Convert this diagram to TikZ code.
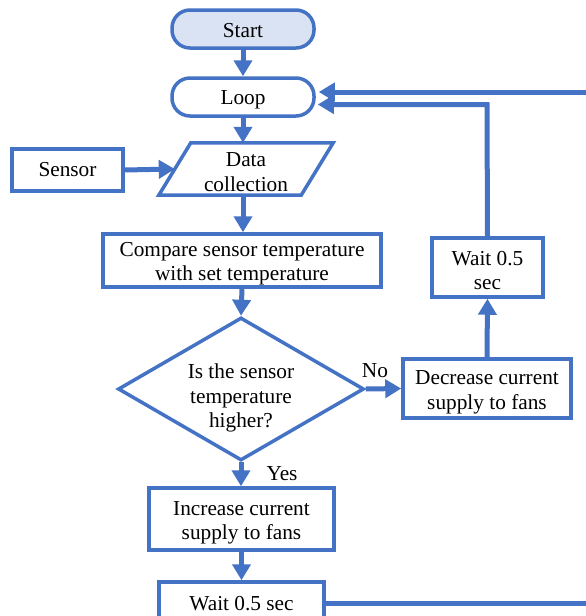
\documentclass[tikz,border=0pt]{standalone}
\usepackage{fontspec}
\setmainfont{LiberationSerif}[Extension=.ttf,UprightFont=*-Regular,BoldFont=*-Bold]
\usetikzlibrary{arrows.meta,shapes.geometric}
\definecolor{fblue}{RGB}{68,114,196}
\definecolor{fstart}{RGB}{218,227,243}
\newcommand\tup[1]{\rule{0pt}{#1pt}}
\begin{document}
\begin{tikzpicture}[x=1pt,y=-1pt,
  font=\fontsize{21.3}{24.5}\selectfont,
  box/.style={draw=fblue,line width=3.5pt,fill=white,rectangle,align=center,inner sep=0pt},
  term/.style={box,rounded corners=18pt,minimum width=142pt,minimum height=38pt},
  conn/.style={draw=fblue,line width=5pt,-{Triangle[length=16pt,width=18pt]}},
  lbl/.style={inner sep=0pt}]
\useasboundingbox (0,0) rectangle (586,616);
\clip (0,0) rectangle (586,616);
\node[term,fill=fstart] (start) at (243,29) {\tup{18}Start};
\node[term] (loop) at (243,97) {\tup{20}Loop};
\node[box,minimum width=111pt,minimum height=42pt] (sensor) at (67.5,170) {Sensor};
\node[align=center,inner sep=0pt,minimum width=142pt,minimum height=52pt] (data) at (246,169) {\tup{20}Data\\collection};
\draw[fblue,line width=3.5pt,line join=miter]
  ([xshift=16pt]data.north west) -- ([xshift=16pt]data.north east)
  -- ([xshift=-16pt]data.south east) -- ([xshift=-16pt]data.south west) -- cycle;
\node[box,minimum width=278pt,minimum height=53pt] (cmp) at (242,260.5) {\tup{21}Compare sensor temperature\\with set temperature};
\node[diamond,draw=fblue,line width=3.5pt,minimum width=246pt,minimum height=143pt,inner sep=0pt] (dec) at (241,389) {};
\node[align=center,inner sep=0pt] (dectext) at (241,398) {Is the sensor\\temperature\\higher?};
\node[box,minimum width=168pt,minimum height=59pt] (decr) at (487,388.5) {\tup{22}Decrease current\\supply to fans};
\node[box,minimum width=111pt,minimum height=59pt] (waitr) at (487.5,267.5) {\tup{20}Wait 0.5\\sec};
\node[box,minimum width=185pt,minimum height=62pt] (incr) at (241.5,519) {\tup{22}Increase current\\supply to fans};
\node[box,minimum width=165pt,minimum height=44pt] (waitb) at (241.5,604) {Wait 0.5 sec};
\node[lbl] (no) at (375,371) {No};
\node[lbl] (yes) at (282,474) {Yes};
\coordinate (c1) at (487,104.5);
\coordinate (c2) at (588,603);
\coordinate (c3) at (588,92);
\draw[conn] (start.south) -- (loop.north);
\draw[conn] (loop.south) -- (loop.south |- data.north);
\draw[conn] (sensor.east) -- (data.west);
\draw[conn] (loop.south |- data.south) -- (loop.south |- cmp.north);
\draw[conn] (cmp.south) -- (dec.north);
\draw[conn] (dec.east) -- (decr.west);
\draw[conn] (dec.south) -- (dec.south |- incr.north);
\draw[conn] (decr.north) -- (waitr.south);
\draw[conn] (incr.south) -- (waitb.north);
\draw[conn] (waitr.north) -- (c1) -- ([xshift=2pt]c1 -| loop.east);
\draw[conn] (waitb.east |- c2) -- (c2) -- (c3) -- ([xshift=3pt]c3 -| loop.east);
\end{tikzpicture}
\end{document}
